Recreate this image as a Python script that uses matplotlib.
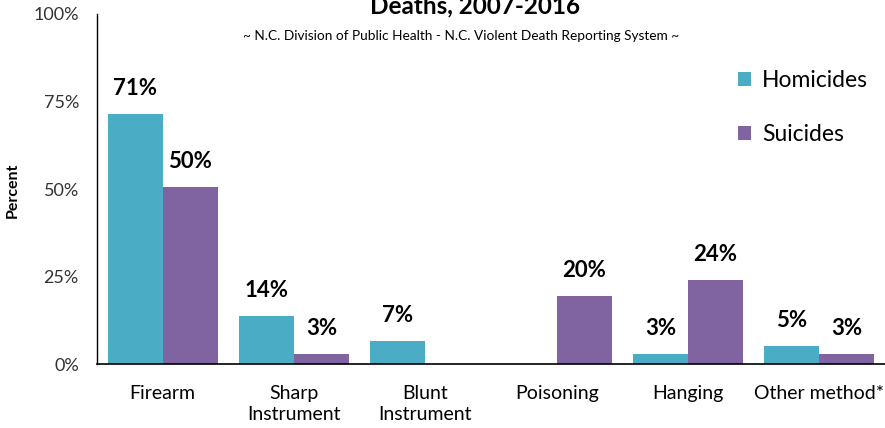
import numpy as np
import matplotlib
matplotlib.use("Agg")
import matplotlib.pyplot as plt

plt.rcParams['font.family'] = ['Lato', 'DejaVu Sans']

# data
categories = ["Firearm", "Sharp\nInstrument", "Blunt\nInstrument",
              "Poisoning", "Hanging", "Other method*"]
homicides = [71.4, 13.7, 6.6, 0, 2.9, 5.1]
suicides = [50.6, 2.9, 0, 19.4, 24.0, 2.9]
homicide_labels = ["71%", "14%", "7%", "", "3%", "5%"]
suicide_labels = ["50%", "3%", "", "20%", "24%", "3%"]
yticks = [0, 25, 50, 75, 100]

teal = "#4BACC6"
purple = "#8064A2"

fig = plt.figure(figsize=(8.85, 4.28), dpi=100)
ax = fig.add_axes([0.1096, 0.1495, 0.8904, 0.8178])

x = np.arange(len(categories))
w = 0.42
b1 = ax.bar(x - w / 2, homicides, w, color=teal, label="Homicides")
b2 = ax.bar(x + w / 2, suicides, w, color=purple, label="Suicides")

for bars, labels in ((b1, homicide_labels), (b2, suicide_labels)):
    for bar, lab in zip(bars, labels):
        if not lab:
            continue
        ax.annotate(lab, (bar.get_x() + bar.get_width() / 2, bar.get_height()),
                    xytext=(0, 11), textcoords="offset points",
                    ha="center", va="bottom", fontsize=16, fontweight="bold")

ax.set_xlim(-0.5, len(categories) - 0.5)
ax.set_ylim(0, 100)
ax.set_yticks(yticks)
ax.set_yticklabels([f"{t}%" for t in yticks], fontsize=13, color="#333333")
ax.set_xticks(x)
ax.set_xticklabels(categories, fontsize=14, linespacing=1.3)
ax.tick_params(axis="both", length=0)
ax.tick_params(axis="x", pad=15)
ax.tick_params(axis="y", pad=13)
for s in ("top", "right"):
    ax.spines[s].set_visible(False)
ax.spines["left"].set_linewidth(1.0)
ax.spines["bottom"].set_linewidth(1.2)

ax.set_ylabel("Percent", fontsize=11.5, fontweight="bold")
ax.yaxis.set_label_coords(-0.098, 0.497)

fig.text(0.537, 0.968, "Deaths, 2007-2016", ha="center", va="baseline",
         fontsize=17.5, fontweight="bold")
fig.text(0.521, 0.915, "~ N.C. Division of Public Health - N.C. Violent Death Reporting System ~",
         ha="center", va="center", fontsize=9.8)

ax.legend(loc="upper left", bbox_to_anchor=(0.813, 0.84), frameon=False,
          fontsize=16.5, labelspacing=1.45, handlelength=0.6, handleheight=0.6,
          handletextpad=0.45, borderpad=0, borderaxespad=0)

fig.savefig("out.png", dpi=100)
